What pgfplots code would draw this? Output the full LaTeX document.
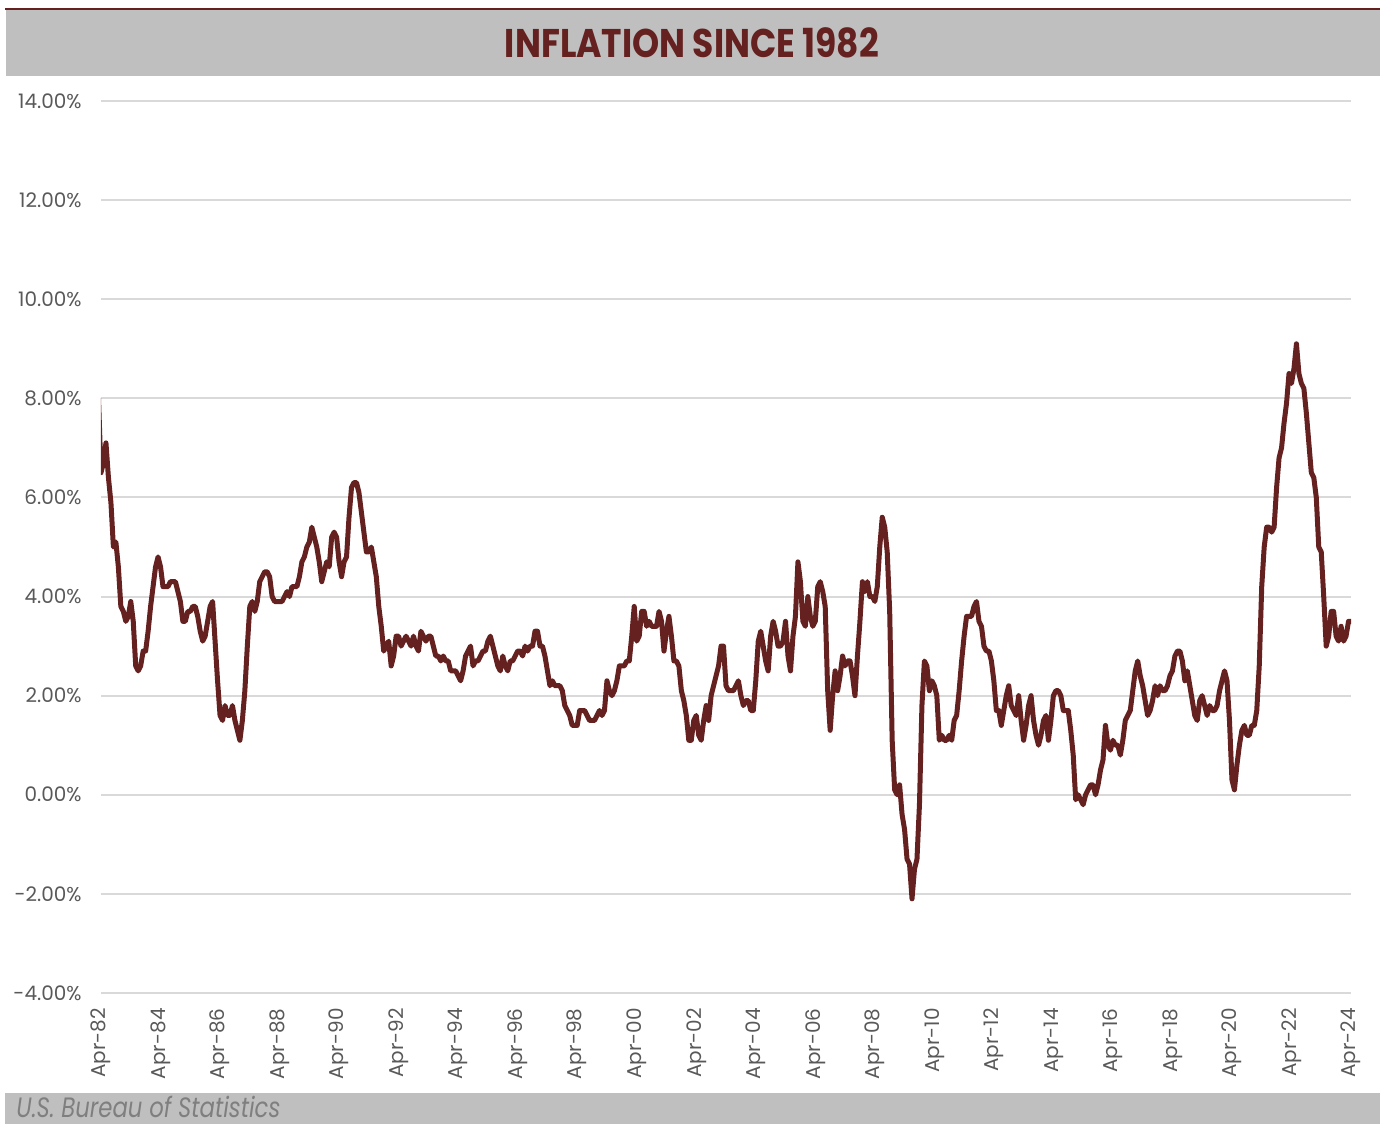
\documentclass[border=0pt]{standalone}
\usepackage{pgfplots}
\usepackage{pgfplotstable}
\usepackage{graphicx}
\usepackage{fontspec}
\pgfplotsset{compat=1.18}
\setmainfont{Poppins}
\definecolor{linered}{HTML}{64211F}
\definecolor{bandgray}{HTML}{BFBFBF}
\definecolor{gridgray}{HTML}{D9D9D9}
\definecolor{tickgray}{HTML}{595959}
\definecolor{srcgray}{HTML}{7F7F7F}

% US CPI-U, year-over-year % change, monthly; first value is the (clipped) Mar-82 lead-in point
\pgfplotstableread[header=false,row sep=\\]{
8.0\\
6.5\\6.7\\7.1\\6.4\\5.9\\5.0\\5.1\\4.6\\3.8\\
3.7\\3.5\\3.6\\3.9\\3.5\\2.6\\2.5\\2.6\\2.9\\2.9\\3.3\\3.8\\
4.2\\4.6\\4.8\\4.6\\4.2\\4.2\\4.2\\4.3\\4.3\\4.3\\4.1\\3.9\\
3.5\\3.5\\3.7\\3.7\\3.8\\3.8\\3.6\\3.3\\3.1\\3.2\\3.5\\3.8\\
3.9\\3.1\\2.3\\1.6\\1.5\\1.8\\1.6\\1.6\\1.8\\1.5\\1.3\\1.1\\
1.5\\2.1\\3.0\\3.8\\3.9\\3.7\\3.9\\4.3\\4.4\\4.5\\4.5\\4.4\\
4.0\\3.9\\3.9\\3.9\\3.9\\4.0\\4.1\\4.0\\4.2\\4.2\\4.2\\4.4\\
4.7\\4.8\\5.0\\5.1\\5.4\\5.2\\5.0\\4.7\\4.3\\4.5\\4.7\\4.6\\
5.2\\5.3\\5.2\\4.7\\4.4\\4.7\\4.8\\5.6\\6.2\\6.3\\6.3\\6.1\\
5.7\\5.3\\4.9\\4.9\\5.0\\4.7\\4.4\\3.8\\3.4\\2.9\\3.0\\3.1\\
2.6\\2.8\\3.2\\3.2\\3.0\\3.1\\3.2\\3.1\\3.0\\3.2\\3.0\\2.9\\
3.3\\3.2\\3.1\\3.2\\3.2\\3.0\\2.8\\2.8\\2.7\\2.8\\2.7\\2.7\\
2.5\\2.5\\2.5\\2.4\\2.3\\2.5\\2.8\\2.9\\3.0\\2.6\\2.7\\2.7\\
2.8\\2.9\\2.9\\3.1\\3.2\\3.0\\2.8\\2.6\\2.5\\2.8\\2.6\\2.5\\
2.7\\2.7\\2.8\\2.9\\2.9\\2.8\\3.0\\2.9\\3.0\\3.0\\3.3\\3.3\\
3.0\\3.0\\2.8\\2.5\\2.2\\2.3\\2.2\\2.2\\2.2\\2.1\\1.8\\1.7\\
1.6\\1.4\\1.4\\1.4\\1.7\\1.7\\1.7\\1.6\\1.5\\1.5\\1.5\\1.6\\
1.7\\1.6\\1.7\\2.3\\2.1\\2.0\\2.1\\2.3\\2.6\\2.6\\2.6\\2.7\\
2.7\\3.2\\3.8\\3.1\\3.2\\3.7\\3.7\\3.4\\3.5\\3.4\\3.4\\3.4\\
3.7\\3.5\\2.9\\3.3\\3.6\\3.2\\2.7\\2.7\\2.6\\2.1\\1.9\\1.6\\
1.1\\1.1\\1.5\\1.6\\1.2\\1.1\\1.5\\1.8\\1.5\\2.0\\2.2\\2.4\\
2.6\\3.0\\3.0\\2.2\\2.1\\2.1\\2.1\\2.2\\2.3\\2.0\\1.8\\1.9\\
1.9\\1.7\\1.7\\2.3\\3.1\\3.3\\3.0\\2.7\\2.5\\3.2\\3.5\\3.3\\
3.0\\3.0\\3.1\\3.5\\2.8\\2.5\\3.2\\3.6\\4.7\\4.3\\3.5\\3.4\\
4.0\\3.6\\3.4\\3.5\\4.2\\4.3\\4.1\\3.8\\2.1\\1.3\\2.0\\2.5\\
2.1\\2.4\\2.8\\2.6\\2.7\\2.7\\2.4\\2.0\\2.8\\3.5\\4.3\\4.1\\
4.3\\4.0\\4.0\\3.9\\4.2\\5.0\\5.6\\5.4\\4.9\\3.7\\1.1\\0.1\\
0.0\\0.2\\-0.4\\-0.7\\-1.3\\-1.4\\-2.1\\-1.5\\-1.3\\-0.2\\1.8\\2.7\\
2.6\\2.1\\2.3\\2.2\\2.0\\1.1\\1.2\\1.1\\1.1\\1.2\\1.1\\1.5\\
1.6\\2.1\\2.7\\3.2\\3.6\\3.6\\3.6\\3.8\\3.9\\3.5\\3.4\\3.0\\
2.9\\2.9\\2.7\\2.3\\1.7\\1.7\\1.4\\1.7\\2.0\\2.2\\1.8\\1.7\\
1.6\\2.0\\1.5\\1.1\\1.4\\1.8\\2.0\\1.5\\1.2\\1.0\\1.2\\1.5\\
1.6\\1.1\\1.5\\2.0\\2.1\\2.1\\2.0\\1.7\\1.7\\1.7\\1.3\\0.8\\
-0.1\\0.0\\-0.1\\-0.2\\0.0\\0.1\\0.2\\0.2\\0.0\\0.2\\0.5\\0.7\\
1.4\\1.0\\0.9\\1.1\\1.0\\1.0\\0.8\\1.1\\1.5\\1.6\\1.7\\2.1\\
2.5\\2.7\\2.4\\2.2\\1.9\\1.6\\1.7\\1.9\\2.2\\2.0\\2.2\\2.1\\
2.1\\2.2\\2.4\\2.5\\2.8\\2.9\\2.9\\2.7\\2.3\\2.5\\2.2\\1.9\\
1.6\\1.5\\1.9\\2.0\\1.8\\1.6\\1.8\\1.7\\1.7\\1.8\\2.1\\2.3\\
2.5\\2.3\\1.5\\0.3\\0.1\\0.6\\1.0\\1.3\\1.4\\1.2\\1.2\\1.4\\
1.4\\1.7\\2.6\\4.2\\5.0\\5.4\\5.4\\5.3\\5.4\\6.2\\6.8\\7.0\\
7.5\\7.9\\8.5\\8.3\\8.6\\9.1\\8.5\\8.3\\8.2\\7.7\\7.1\\6.5\\
6.4\\6.0\\5.0\\4.9\\4.0\\3.0\\3.2\\3.7\\3.7\\3.2\\3.1\\3.4\\
3.1\\3.2\\3.5\\3.5\\
}\cpi

\begin{document}
\begin{tikzpicture}
\useasboundingbox (0,0) rectangle (691.5pt,562pt);
% title band
\fill[bandgray] (3pt,524pt) rectangle (690pt,557pt);
\draw[linered, line width=0.8pt] (2.5pt,557.6pt) -- (690pt,557.6pt);
\node[inner sep=0pt, text=linered, anchor=center] at (346pt,540.5pt)
  {\resizebox{187pt}{\height}{\fontsize{20}{24}\selectfont\bfseries INFLATION SINCE 1982}};
% source band
\fill[bandgray] (2.5pt,0pt) rectangle (690pt,15.5pt);
\node[inner sep=0pt, text=srcgray, anchor=base west] at (8pt,3pt)
  {\resizebox{132pt}{\height}{\fontsize{14}{17}\selectfont\itshape U.S. Bureau of Statistics}};

\begin{axis}[
  at={(50.5pt,65.5pt)}, anchor=south west,
  width=625pt, height=446pt, scale only axis,
  xmin=0, xmax=504, ymin=-4, ymax=14,
  xtick={0,24,...,504},
  xticklabels={Apr-82,Apr-84,Apr-86,Apr-88,Apr-90,Apr-92,Apr-94,Apr-96,Apr-98,Apr-00,Apr-02,Apr-04,Apr-06,Apr-08,Apr-10,Apr-12,Apr-14,Apr-16,Apr-18,Apr-20,Apr-22,Apr-24},
  ytick={-4,-2,...,14},
  yticklabels={-4.00\%,-2.00\%,0.00\%,2.00\%,4.00\%,6.00\%,8.00\%,10.00\%,12.00\%,14.00\%},
  ymajorgrids, xmajorgrids=false,
  major grid style={draw=gridgray, line width=1pt},
  axis line style={draw=none},
  major tick length=0pt,
  tick label style={font=\fontsize{10}{12}\selectfont, text=tickgray},
  xticklabel style={rotate=90, anchor=east, inner sep=0pt},
  yticklabel style={anchor=east, inner sep=0pt},
  xticklabel shift=7.5pt, yticklabel shift=9.5pt,
]
\addplot[color=linered, line width=2.5pt, line join=round, mark=none]
  table[x expr=\coordindex-1, y index=0] {\cpi};
\end{axis}
\end{tikzpicture}
\end{document}
